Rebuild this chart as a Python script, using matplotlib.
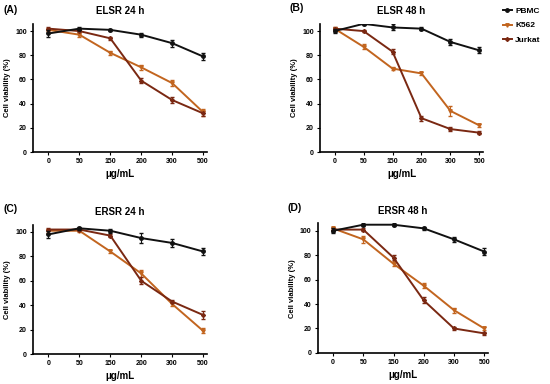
import matplotlib
matplotlib.use('Agg')
from matplotlib import pyplot as plt
from matplotlib.lines import Line2D
import numpy as np

plt.rcParams['font.family'] = ['Liberation Sans', 'DejaVu Sans']
plt.rcParams['font.weight'] = 'bold'

doses = ['0', '50', '150', '200', '300', '500']

# ELSR 24 h
a_pbmc = [98, 102, 101, 97, 90, 79]
a_pbmc_err = [3, 1, 1, 1.5, 3, 2.5]
a_k562 = [101, 97, 82, 70, 57, 33]
a_k562_err = [1, 1.5, 1.5, 2, 2.5, 3]
a_jurkat = [102, 100, 94, 59, 43, 32]
a_jurkat_err = [1, 1, 1.5, 2, 2.5, 2]

# ELSR 48 h
b_pbmc = [100, 106, 103, 102, 91, 84]
b_pbmc_err = [2, 1, 2.5, 1.5, 2.5, 2.5]
b_k562 = [102, 87, 69, 65, 34, 22]
b_k562_err = [1.5, 2, 1.5, 1.5, 4, 1.5]
b_jurkat = [102, 100, 83, 28, 19, 16]
b_jurkat_err = [1, 1, 2, 2, 2, 1]

# ERSR 24 h
c_pbmc = [98, 103, 101, 95, 91, 84]
c_pbmc_err = [3, 1, 1.5, 4, 3, 3]
c_k562 = [101, 101, 84, 66, 41, 19]
c_k562_err = [1.5, 1, 1, 3, 1.5, 2]
c_jurkat = [102, 102, 97, 60, 43, 32]
c_jurkat_err = [1, 1, 1.5, 3, 1.5, 3]

# ERSR 48 h
d_pbmc = [100, 105, 105, 102, 93, 83]
d_pbmc_err = [2, 1, 1, 1, 2, 3]
d_k562 = [102, 93, 73, 55, 35, 20]
d_k562_err = [1, 3, 2, 2, 2, 1.5]
d_jurkat = [101, 101, 78, 43, 20, 16]
d_jurkat_err = [1, 1, 2, 2.5, 1, 1]

panels = [
    ('(A)', 'ELSR 24 h', [0.060, 0.604, 0.316, 0.334], (0.006, 0.975), a_pbmc, a_pbmc_err, a_k562, a_k562_err, a_jurkat, a_jurkat_err),
    ('(B)', 'ELSR 48 h', [0.582, 0.604, 0.296, 0.334], (0.527, 0.978), b_pbmc, b_pbmc_err, b_k562, b_k562_err, b_jurkat, b_jurkat_err),
    ('(C)', 'ERSR 24 h', [0.060, 0.078, 0.316, 0.337], (0.006, 0.455), c_pbmc, c_pbmc_err, c_k562, c_k562_err, c_jurkat, c_jurkat_err),
    ('(D)', 'ERSR 48 h', [0.578, 0.081, 0.309, 0.337], (0.523, 0.458), d_pbmc, d_pbmc_err, d_k562, d_k562_err, d_jurkat, d_jurkat_err),
]

col_pbmc = '#111111'
col_k562 = '#c2651f'
col_jurkat = '#7a2812'

fig = plt.figure(figsize=(5.5, 3.84), dpi=100)
x = np.arange(len(doses))

for lab, title, pos, labpos, p, pe, k, ke, j, je in panels:
    ax = fig.add_axes(pos)
    ax.errorbar(x, p, yerr=pe, color=col_pbmc, marker='o', ms=2.5, lw=1.4,
                capsize=1.5, elinewidth=0.8, zorder=3)
    ax.errorbar(x, k, yerr=ke, color=col_k562, marker='v', ms=2.5, lw=1.4,
                capsize=1.5, elinewidth=0.8, zorder=2)
    ax.errorbar(x, j, yerr=je, color=col_jurkat, marker='D', ms=2, lw=1.4,
                capsize=1.5, elinewidth=0.8, zorder=2)
    ax.set_xlim(-0.5, 5.12)
    ax.set_ylim(0, 106)
    ax.set_xticks(x)
    ax.set_xticklabels(doses)
    ax.set_yticks([0, 20, 40, 60, 80, 100])
    ax.tick_params(labelsize=5, length=2.5, width=0.8, pad=2)
    for s in ['top', 'right']:
        ax.spines[s].set_visible(False)
    ax.spines['left'].set_linewidth(1.2)
    ax.spines['bottom'].set_linewidth(1.2)
    ax.set_title(title, fontsize=7, fontweight='bold', pad=7)
    ax.set_xlabel('μg/mL', fontsize=7, fontweight='bold', labelpad=3)
    ax.set_ylabel('Cell viability (%)', fontsize=5.5, fontweight='bold', labelpad=3)
    fig.text(labpos[0], labpos[1], lab, fontsize=7.5, fontweight='bold',
             va='center', ha='left')

handles = [
    Line2D([], [], color=col_pbmc, marker='o', ms=2.5, lw=1.4),
    Line2D([], [], color=col_k562, marker='v', ms=2.5, lw=1.4),
    Line2D([], [], color=col_jurkat, marker='D', ms=2, lw=1.4),
]
fig.legend(handles, ['PBMC', 'K562', 'Jurkat'], loc='upper left',
           bbox_to_anchor=(0.9, 1.0), frameon=False, fontsize=6,
           handlelength=1.1, handletextpad=0.4, labelspacing=0.75)

plt.savefig('out.png', dpi=100)
